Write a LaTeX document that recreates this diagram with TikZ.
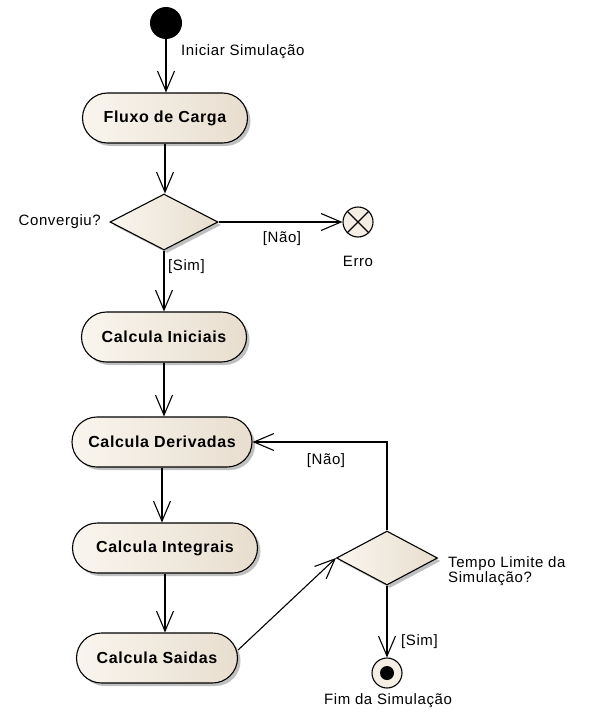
\documentclass[tikz,border=0pt]{standalone}
\usepackage{fontspec}
\setmainfont{Liberation Sans}
\newfontfamily\umlfont[LetterSpace=4]{Liberation Sans}
\usetikzlibrary{shapes.geometric,shapes.misc,shadows,arrows.meta}

\definecolor{creamL}{RGB}{249,245,238}
\definecolor{creamR}{RGB}{232,222,207}
\definecolor{creamC}{RGB}{244,238,228}
\definecolor{shadowgray}{RGB}{192,192,192}

\tikzset{
  flow/.style={line width=1.1pt,
    -{Straight Barb[length=20pt,width=17pt,line width=1.1pt]}},
  plainline/.style={line width=1.1pt},
  action/.style={rounded rectangle, draw, line width=1.1pt,
    left color=creamL, right color=creamR,
    minimum height=50pt, inner sep=0pt,
    font=\umlfont\fontsize{16}{19}\selectfont\bfseries,
    drop shadow={shadow xshift=3pt, shadow yshift=-3pt,
      fill=shadowgray, opacity=1}},
  decision/.style={diamond, draw, line width=1.1pt,
    left color=creamL, right color=creamR, inner sep=0pt,
    drop shadow={shadow xshift=3pt, shadow yshift=-3pt,
      fill=shadowgray, opacity=1}},
  lbl/.style={font=\umlfont\fontsize{15}{15.5}\selectfont, inner sep=0pt},
}

\begin{document}
\begin{tikzpicture}[x=1pt, y=-1pt]
  \useasboundingbox (0,0) rectangle (599,720);

  % initial and final nodes
  \node[circle, fill=black, minimum size=32pt, inner sep=0pt] (start) at (166,23) {};
  \node[circle, draw, line width=1.1pt, fill=creamC, minimum size=30pt, inner sep=0pt] (fim) at (387,673) {};
  \node[circle, fill=black, minimum size=14pt, inner sep=0pt] (fimdot) at (fim.center) {};

  % flow-final node
  \node[circle, draw, line width=1.1pt, fill=creamC, minimum size=30pt, inner sep=0pt] (erro) at (358,222) {};
  \draw[plainline] (erro.north west) -- (erro.south east)
                   (erro.north east) -- (erro.south west);

  % actions
  \node[action, minimum width=165pt] (fluxo)   at (165,118) {Fluxo de Carga};
  \node[action, minimum width=165pt] (calcIni) at (164,337) {Calcula Iniciais};
  \node[action, minimum width=180pt] (calcDer) at (162,442) {Calcula Derivadas};
  \node[action, minimum width=185pt] (calcInt) at (165,548) {Calcula Integrais};
  \node[action, minimum width=161pt] (calcSai) at (157,658) {Calcula Saidas};

  % decisions
  \node[decision, minimum width=108pt, minimum height=56pt] (conv)  at (164,222) {};
  \node[decision, minimum width=101pt, minimum height=54pt] (tempo) at (387,558) {};

  % control flows
  \draw[flow] (start.south) -- (start.south |- fluxo.north);
  \draw[flow] (fluxo.south) -- (fluxo.south |- conv.north);
  \draw[flow] (conv.south) -- (conv.south |- calcIni.north);
  \draw[flow] (conv.east) -- (erro.west);
  \draw[flow] (calcIni.south) -- (calcIni.south |- calcDer.north);
  \draw[flow] (calcDer.south) -- (calcDer.south |- calcInt.north);
  \draw[flow] (calcInt.south) -- (calcInt.south |- calcSai.north);
  \draw[flow] ([yshift=8pt]calcSai.east) -- (tempo.west);
  \draw[flow] (tempo.north) -- (tempo.north |- calcDer.east) -- (calcDer.east);
  \draw[flow] (tempo.south) -- (fim.north);

  % labels
  \node[lbl, anchor=west] (lblStart) at (181,52) {Iniciar Simulação};
  \node[lbl, anchor=east] (lblConv) at (101,222) {Convergiu?};
  \node[lbl] (lblNao1) at (282,239) {[Não]};
  \node[lbl] (lblErro) at (358,261) {Erro};
  \node[lbl, anchor=west] (lblSim1) at (168,267) {[Sim]};
  \node[lbl] (lblNao2) at (326,461) {[Não]};
  \node[lbl, anchor=west, align=left] (lblTempo) at (448,571) {Tempo Limite da\\Simulação?};
  \node[lbl, anchor=west] (lblSim2) at (401,642) {[Sim]};
  \node[lbl] (lblFim) at (388,701) {Fim da Simulação};
\end{tikzpicture}
\end{document}
